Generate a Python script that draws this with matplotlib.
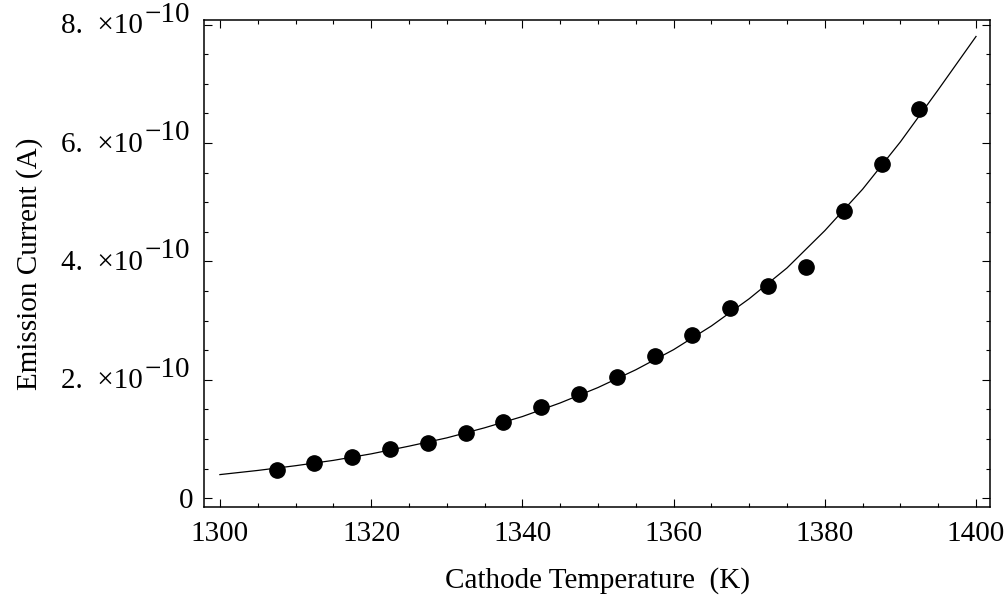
import numpy as np
import matplotlib.pyplot as plt
from matplotlib.ticker import FuncFormatter, MultipleLocator

plt.rcParams['font.family'] = ['Liberation Serif', 'DejaVu Serif']

# measured points (current in units of 1e-10 A)
temp = [1307.5, 1312.5, 1317.5, 1322.5, 1327.5, 1332.5, 1337.5, 1342.5, 1347.5,
        1352.5, 1357.5, 1362.5, 1367.5, 1372.5, 1377.5, 1382.5, 1387.5, 1392.5]
current = [0.48, 0.59, 0.69, 0.83, 0.94, 1.10, 1.29, 1.54, 1.76,
           2.05, 2.40, 2.76, 3.21, 3.59, 3.91, 4.86, 5.65, 6.57]

# fitted curve, every 5 K
fit_temp = [1300, 1305, 1310, 1315, 1320, 1325, 1330, 1335, 1340, 1345, 1350,
            1355, 1360, 1365, 1370, 1375, 1380, 1385, 1390, 1395, 1400]
fit_current = [0.40, 0.47, 0.55, 0.64, 0.75, 0.88, 1.02, 1.19, 1.38, 1.61, 1.87,
               2.17, 2.51, 2.91, 3.37, 3.89, 4.52, 5.22, 6.02, 6.90, 7.80]

y_ticks = [2, 4, 6, 8]
SCALE = 1e-10
FS = 21

fig = plt.figure(figsize=(10.06, 6.06), dpi=100)
ax = fig.add_axes([0.2028, 0.1634, 0.7813, 0.8028])

ax.plot(fit_temp, np.array(fit_current) * SCALE, color='black', lw=0.9)
ax.plot(temp, np.array(current) * SCALE, 'o', color='black', ms=11)

ax.set_xlim(1297.9, 1401.85)
ax.set_ylim(-0.147e-10, 8.07e-10)

ax.xaxis.set_major_locator(MultipleLocator(20))
ax.xaxis.set_minor_locator(MultipleLocator(5))
ax.yaxis.set_major_locator(MultipleLocator(2e-10))
ax.yaxis.set_minor_locator(MultipleLocator(0.5e-10))
# only "0" as a normal label, the others are drawn Mathematica-style below
ax.yaxis.set_major_formatter(FuncFormatter(lambda v, p: "0" if abs(v) < 1e-15 else ""))

ax.tick_params(which='both', direction='in', top=True, right=True,
               width=0.8, labelsize=FS)
ax.tick_params(which='major', length=6)
ax.tick_params(which='minor', length=3)
ax.tick_params(axis='x', pad=10)
ax.tick_params(axis='y', pad=8)
for s in ax.spines.values():
    s.set_linewidth(1.1)

# "8. ×10" with a full size raised exponent
tr = ax.get_yaxis_transform()
for n in y_ticks:
    ax.annotate("%d.  \u00d710" % n, xy=(0, n * SCALE), xycoords=tr,
                xytext=(-61, -1.5), textcoords='offset pixels',
                ha='right', va='center', fontsize=FS, annotation_clip=False)
    ax.annotate("\u221210", xy=(0, n * SCALE), xycoords=tr,
                xytext=(-59, 10), textcoords='offset pixels',
                ha='left', va='center', fontsize=FS, annotation_clip=False)

ax.set_xlabel("Cathode Temperature  (K)", fontsize=FS, va='top')
ax.xaxis.set_label_coords(0.5, -0.123)
ax.set_ylabel("Emission Current (A)", fontsize=FS)
ax.yaxis.set_label_coords(-0.205, 0.5)

fig.savefig("out.png", dpi=100)
